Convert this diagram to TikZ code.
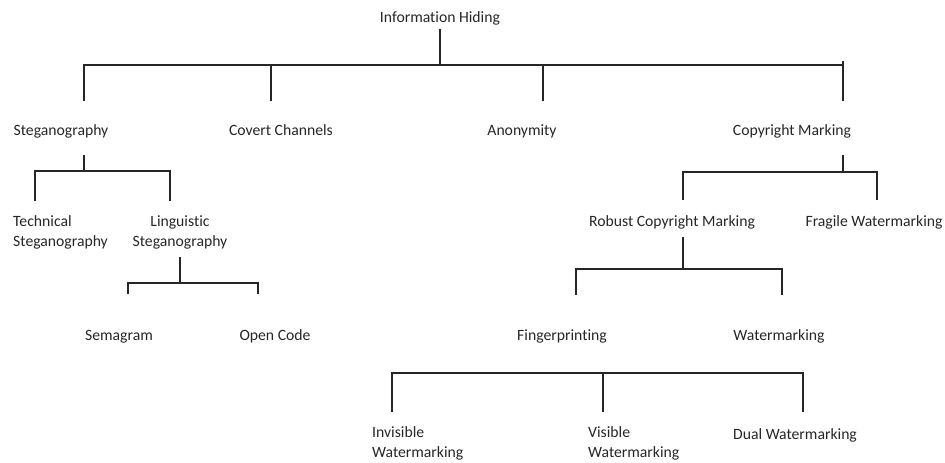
\documentclass[tikz,border=0pt]{standalone}
\usepackage{fontspec}
\setmainfont{Carlito}[Ligatures=NoCommon]

\begin{document}
\begin{tikzpicture}[
        x=1pt, y=-1pt,
        term/.style={inner sep=0pt, anchor=base, text=black!85, font=\fontsize{15.7}{20}\selectfont},
        twoline/.style={term, align=left, anchor=base west},
        branch/.style={line width=1.3pt, draw=black!85}
    ]
        \useasboundingbox (0,0) rectangle (945,463);

        % level 0 and 1
        \node[term] (info) at (440,22) {Information Hiding};
        \node[term] (steg) at (61,135) {Steganography};
        \node[term] (covert) at (281,135) {Covert Channels};
        \node[term] (anon) at (522,135) {Anonymity};
        \node[term] (copy) at (792,135) {Copyright Marking};

        % steganography branch (two-line nodes sit on their last line)
        \node[twoline] (tech) at (13,246) {Technical\\Steganography};
        \node[twoline, align=center, anchor=base] (ling) at (180,246) {Linguistic\\Steganography};
        \node[term] (sema) at (119,340) {Semagram};
        \node[term] (open) at (275,340) {Open Code};

        % copyright branch
        \node[term] (robust) at (672,226) {Robust Copyright Marking};
        \node[term] (fragile) at (874,226) {Fragile Watermarking};
        \node[term] (finger) at (562,340) {Fingerprinting};
        \node[term] (water) at (779,340) {Watermarking};
        \node[twoline] (invis) at (372,457) {Invisible\\Watermarking};
        \node[twoline] (vis) at (588,457) {Visible\\Watermarking};
        \node[term, anchor=base west] (dual) at (733,439) {Dual Watermarking};

        % bus points and line ends
        \coordinate (bus0) at (440,65);
        \coordinate (in-steg) at (84,101);
        \coordinate (in-covert) at (271,101);
        \coordinate (in-anon) at (543,101);
        \coordinate (in-copy) at (843,101);

        \coordinate (out-steg) at (84,155);
        \coordinate (bus1) at (84,171);
        \coordinate (in-tech) at (35,201);
        \coordinate (in-ling) at (170,201);

        \coordinate (bus2) at (180,283);
        \coordinate (in-sema) at (128,294);
        \coordinate (in-open) at (258,294);

        \coordinate (out-copy) at (843,155);
        \coordinate (bus3) at (843,172);
        \coordinate (in-robust) at (683,200);
        \coordinate (in-fragile) at (877,200);

        \coordinate (bus4) at (683,269);
        \coordinate (in-finger) at (576,295);
        \coordinate (in-water) at (782,295);

        \coordinate (bus5) at (603,373);
        \coordinate (in-invis) at (392,412);
        \coordinate (in-vis) at (603,412);
        \coordinate (in-dual) at (803,412);

        % connectors
        \draw[branch] ([yshift=-4pt]info.south) -- (bus0);
        \draw[branch] (in-steg) |- (bus0) -| ([yshift=4pt]in-copy |- bus0) -- (in-copy);
        \draw[branch] (in-covert |- bus0) -- (in-covert);
        \draw[branch] (in-anon |- bus0) -- (in-anon);

        \draw[branch] (out-steg) -- (bus1);
        \draw[branch] (in-tech) |- (bus1) -| (in-ling);
        \draw[branch] ([yshift=-8pt]ling.south) -- (bus2);
        \draw[branch] (in-sema) |- (bus2) -| (in-open);

        \draw[branch] (out-copy) -- (bus3);
        \draw[branch] (in-robust) |- (bus3) -| (in-fragile);
        \draw[branch] ([yshift=-8pt]robust.south -| bus4) -- (bus4);
        \draw[branch] (in-finger) |- (bus4) -| (in-water);

        \draw[branch] (in-invis) |- (bus5) -| (in-dual);
        \draw[branch] (bus5) -- (in-vis);
    \end{tikzpicture}
\end{document}
